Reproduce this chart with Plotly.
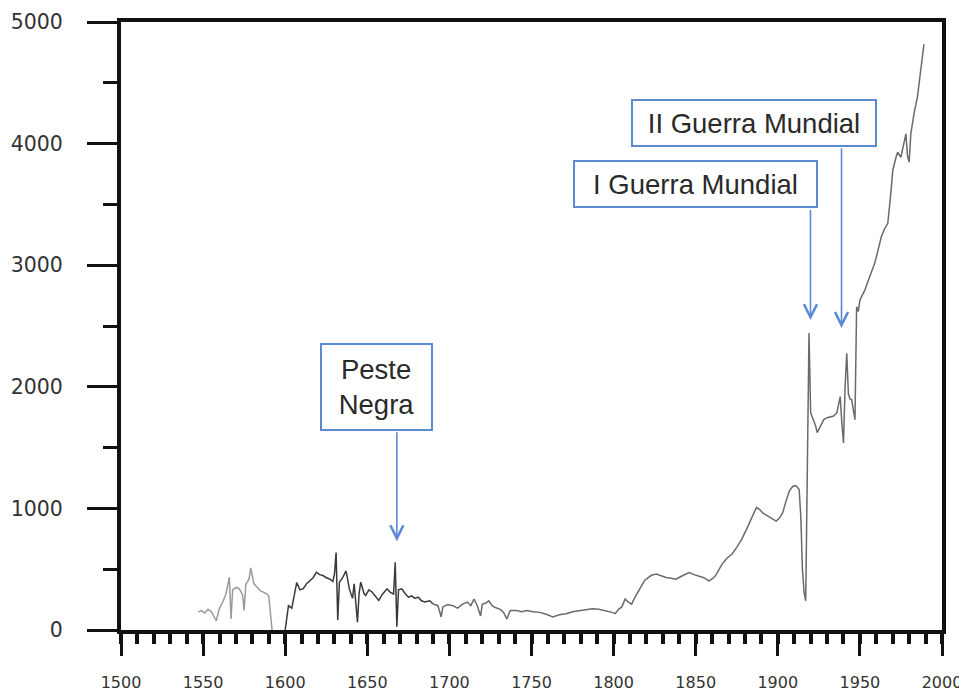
import plotly.graph_objects as go

years = [1547, 1549, 1551, 1553, 1555, 1558, 1560, 1562, 1564, 1566, 1567, 1568, 1570, 1572, 1574, 1575,
         1576, 1578, 1579, 1581, 1583, 1585, 1587, 1589, 1590, 1592, 1600, 1602, 1604, 1605, 1607, 1609,
         1611, 1613, 1615, 1617, 1619, 1621, 1623, 1625, 1627, 1629, 1630, 1631, 1632, 1633, 1635, 1637,
         1638, 1639, 1641, 1642, 1644, 1645, 1646, 1648, 1649, 1651, 1653, 1655, 1657, 1659, 1661, 1662,
         1664, 1666, 1667, 1668, 1669, 1671, 1673, 1675, 1677, 1679, 1681, 1683, 1685, 1688, 1690, 1693,
         1695, 1696, 1699, 1702, 1705, 1708, 1711, 1713, 1715, 1717, 1719, 1720, 1722, 1724, 1726, 1728,
         1731, 1733, 1735, 1737, 1741, 1744, 1747, 1751, 1755, 1759, 1763, 1767, 1771, 1775, 1779, 1783,
         1787, 1791, 1795, 1799, 1801, 1803, 1805, 1807, 1809, 1811, 1813, 1815, 1817, 1819, 1821, 1823,
         1826, 1829, 1832, 1835, 1838, 1841, 1844, 1846, 1849, 1852, 1855, 1858, 1860, 1862, 1864, 1866,
         1869, 1872, 1875, 1878, 1881, 1884, 1887, 1889, 1891, 1894, 1897, 1899, 1901, 1903, 1905, 1907,
         1909, 1911, 1913, 1914, 1915, 1916, 1917, 1918, 1919, 1920, 1921, 1922, 1923, 1924, 1926, 1928,
         1930, 1932, 1934, 1936, 1937, 1938, 1939, 1940, 1941, 1942, 1943, 1944, 1945, 1946, 1947, 1948,
         1949, 1950, 1952, 1953, 1955, 1956, 1958, 1959, 1961, 1963, 1965, 1967, 1969, 1970, 1972, 1973,
         1975, 1976, 1978, 1979, 1980, 1981, 1983, 1985, 1987, 1989]
values = [147, 160, 140, 170, 150, 76, 180, 230, 300, 434, 90, 330, 350, 340, 290, 160,
          375, 420, 510, 380, 350, 322, 310, 295, 280, 0, 0, 200, 180, 250, 390, 330,
          340, 380, 404, 430, 474, 455, 448, 430, 420, 400, 460, 637, 80, 393, 430, 486,
          420, 340, 260, 380, 65, 300, 393, 300, 284, 330, 311, 280, 243, 290, 320, 339,
          310, 296, 556, 27, 330, 339, 300, 270, 280, 260, 270, 240, 230, 240, 215, 200,
          107, 190, 210, 200, 180, 213, 230, 200, 254, 200, 115, 213, 220, 240, 200, 185,
          170, 145, 90, 160, 160, 150, 160, 150, 145, 130, 107, 125, 134, 150, 160, 165,
          175, 170, 160, 145, 134, 170, 190, 254, 230, 213, 268, 320, 363, 410, 432, 450,
          460, 445, 432, 425, 418, 440, 460, 473, 455, 445, 430, 404, 420, 445, 490, 540,
          590, 623, 680, 746, 830, 920, 1008, 990, 960, 937, 910, 896, 920, 965, 1060, 1142,
          1180, 1188, 1155, 937, 500, 311, 240, 1295, 2443, 1787, 1750, 1730, 1680, 1623, 1675, 1730,
          1746, 1755, 1760, 1787, 1850, 1920, 1700, 1538, 2003, 2276, 1940, 1900, 1893, 1800, 1730, 2658,
          2620, 2713, 2760, 2795, 2870, 2904, 2980, 3016, 3120, 3232, 3300, 3344, 3615, 3779, 3888, 3929,
          3888, 3950, 4080, 3900, 3847, 4080, 4250, 4380, 4600, 4817]

x_tick_vals = [1500, 1550, 1600, 1650, 1700, 1750, 1800, 1850, 1900, 1950, 2000]
y_tick_vals = [0, 1000, 2000, 3000, 4000, 5000]

# annotation boxes: label, center year, center value, box width px, box height px
box_labels = ["Peste<br>Negra", "I Guerra Mundial", "II Guerra Mundial"]
box_x = [1655.5, 1849.9, 1885.4]
box_y = [2002, 3664, 4172]
box_w = [113, 245, 246]
box_h = [88, 48, 48]

# arrows: x (year), tail value, tip value
arrow_x = [1668, 1919.9, 1938.8]
arrow_tail = [1639, 3467, 3975]
arrow_tip = [730, 2549, 2484]

segments = [(1540, 1595, "#9a9a9a"), (1595, 1690, "#3a3a3a"), (1688, 1995, "#6a6a6a")]

fig = go.Figure()
for lo, hi, col in segments:
    xs = [y for y in years if lo <= y <= hi]
    vs = [v for y, v in zip(years, values) if lo <= y <= hi]
    fig.add_trace(go.Scatter(x=xs, y=vs, mode="lines",
                             line=dict(color=col, width=1.5), showlegend=False,
                             hoverinfo="skip"))

blue = "#5b89d3"
annos = []
for lab, cx, cy, w, h in zip(box_labels, box_x, box_y, box_w, box_h):
    annos.append(dict(x=cx, y=cy, xref="x", yref="y", text=lab, showarrow=False,
                      font=dict(family="Liberation Sans, Arial", size=27.5, color="#2a2a2a"),
                      bgcolor="white", bordercolor=blue, borderwidth=2, borderpad=0,
                      width=w - 4, height=h - 4, align="center", valign="middle"))
for ax_, tl, tp in zip(arrow_x, arrow_tail, arrow_tip):
    annos.append(dict(x=ax_, y=tp, xref="x", yref="y", ax=ax_, ay=tl, axref="x", ayref="y",
                      text="", showarrow=True, arrowhead=5, arrowsize=1.6, arrowwidth=1.6,
                      arrowcolor=blue, standoff=0, startstandoff=0))

# the page body adds an 8px offset, so the figure is 8px smaller than the window
fig.update_layout(
    width=959, height=685,
    margin=dict(l=113, r=25, t=14, b=63, autoexpand=False),
    paper_bgcolor="white", plot_bgcolor="white",
    annotations=annos,
    xaxis=dict(range=[1500, 2000], tickvals=x_tick_vals, ticktext=[str(v) for v in x_tick_vals],
               automargin=False,
               showgrid=False, zeroline=False, showline=True, linecolor="#111", linewidth=4,
               mirror=True, ticks="outside", ticklen=22, tickwidth=3, tickcolor="#111",
               ticklabelstandoff=13,
               tickfont=dict(family="DejaVu Sans", size=16, color="#333"),
               minor=dict(dtick=10, tick0=1500, ticks="outside", ticklen=10, tickwidth=4,
                          tickcolor="#111", showgrid=False)),
    yaxis=dict(range=[0, 5000], tickvals=y_tick_vals, ticktext=[str(v) for v in y_tick_vals],
               automargin=False,
               showgrid=False, zeroline=False, showline=True, linecolor="#111", linewidth=4,
               mirror=True, ticks="outside", ticklen=30, tickwidth=3, tickcolor="#111",
               ticklabelstandoff=20,
               tickfont=dict(family="DejaVu Sans", size=20.5, color="#333"),
               minor=dict(dtick=500, tick0=0, ticks="outside", ticklen=14, tickwidth=3,
                          tickcolor="#111", showgrid=False)),
)

fig.write_html("out.html")
